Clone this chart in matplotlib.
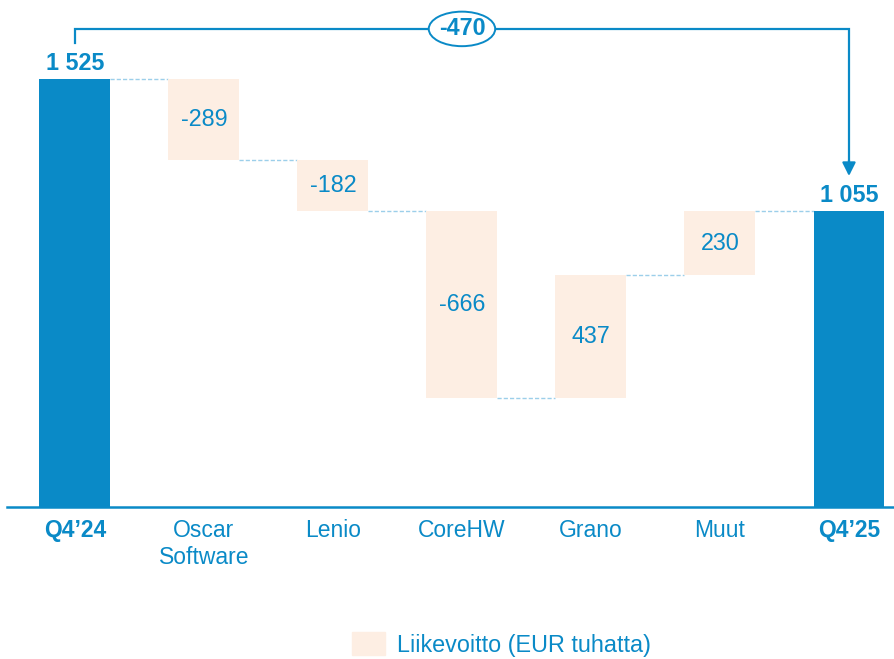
import numpy as np
import matplotlib
matplotlib.use("Agg")
import matplotlib.pyplot as plt
from matplotlib.patches import Ellipse, Rectangle

plt.rcParams['font.family'] = ['Liberation Sans', 'DejaVu Sans']

# data
categories = ["Q4’24", "Oscar\nSoftware", "Lenio", "CoreHW", "Grano", "Muut", "Q4’25"]
start_value = 1525
changes = [-289, -182, -666, 437, 230]
end_value = 1055
total_change = end_value - start_value
legend_label = "Liikevoitto (EUR tuhatta)"

BLUE = "#0A8AC7"
PEACH = "#FDEEE3"
DASH = "#9CCFEA"

def fmt(v):
    return f"{v:,}".replace(",", " ")

fig = plt.figure(figsize=(8.94, 6.59), dpi=100)
ax = fig.add_axes([0, 0, 1, 1])
ax.set_xlim(-0.581, 6.349)
ax.set_ylim(-541.5, 1806)
ax.axis('off')

w = 0.55
x = np.arange(len(categories))

# running levels
levels = [start_value]
for c in changes:
    levels.append(levels[-1] + c)

# totals
ax.bar(x[0], start_value, width=w, color=BLUE, zorder=2)
ax.bar(x[-1], end_value, width=w, color=BLUE, zorder=2)

# floating bars
for i, c in enumerate(changes):
    lo = min(levels[i], levels[i + 1])
    ax.bar(x[i + 1], abs(c), bottom=lo, width=w, color=PEACH, zorder=2)
    ax.text(x[i + 1], lo + abs(c) / 2, str(c), ha='center', va='center',
            color=BLUE, fontsize=16.8, zorder=3)

# connectors
conn = levels + [end_value]
for i in range(len(categories) - 1):
    ax.plot([x[i] + w / 2, x[i + 1] - w / 2], [conn[i], conn[i]],
            color=DASH, lw=1, ls=(0, (3, 1.5)), zorder=1)

# total labels
for xi, v in [(x[0], start_value), (x[-1], end_value)]:
    ax.annotate(fmt(v), (xi, v), xytext=(0, 2.5), textcoords='offset points',
                ha='center', va='bottom', color=BLUE, fontsize=16.8,
                fontweight='bold')

# baseline
ax.plot([-0.527, 6.349], [0, 0], color=BLUE, lw=1.8, zorder=3)

# category labels
for xi, cat in zip(x, categories):
    bold = xi in (x[0], x[-1])
    ax.annotate(cat, (xi, 0), xytext=(0, -9), textcoords='offset points',
                ha='center', va='top', color=BLUE, fontsize=16.5,
                fontweight='bold' if bold else 'normal', linespacing=1.2)

# bracket with total change
top = start_value + 178
ax.plot([x[0], x[0], x[-1], x[-1]],
        [start_value + 128, top, top, end_value + 175],
        color=BLUE, lw=1.6, zorder=3, solid_joinstyle='miter')
ax.annotate('', xy=(x[-1], end_value + 124), xytext=(x[-1], end_value + 180),
            arrowprops=dict(arrowstyle='-|>', color=BLUE, lw=1.6,
                            mutation_scale=20, shrinkA=0, shrinkB=0), zorder=4)
mid = (x[0] + x[-1]) / 2
ax.add_patch(Ellipse((mid, top), 0.515, 123, facecolor='white',
                     edgecolor=BLUE, lw=1.4, zorder=4))
ax.text(mid, top, str(total_change), ha='center', va='center', color=BLUE,
        fontsize=16.8, fontweight='bold', zorder=5)

# legend
leg = ax.legend(handles=[Rectangle((0, 0), 1, 1, color=PEACH)], labels=[legend_label],
                loc='center', bbox_to_anchor=(0.561, 0.022), frameon=False,
                fontsize=16.8, handlelength=1.4, handleheight=1.1, handletextpad=0.5)
for t in leg.get_texts():
    t.set_color(BLUE)

fig.savefig("out.png", dpi=100)
